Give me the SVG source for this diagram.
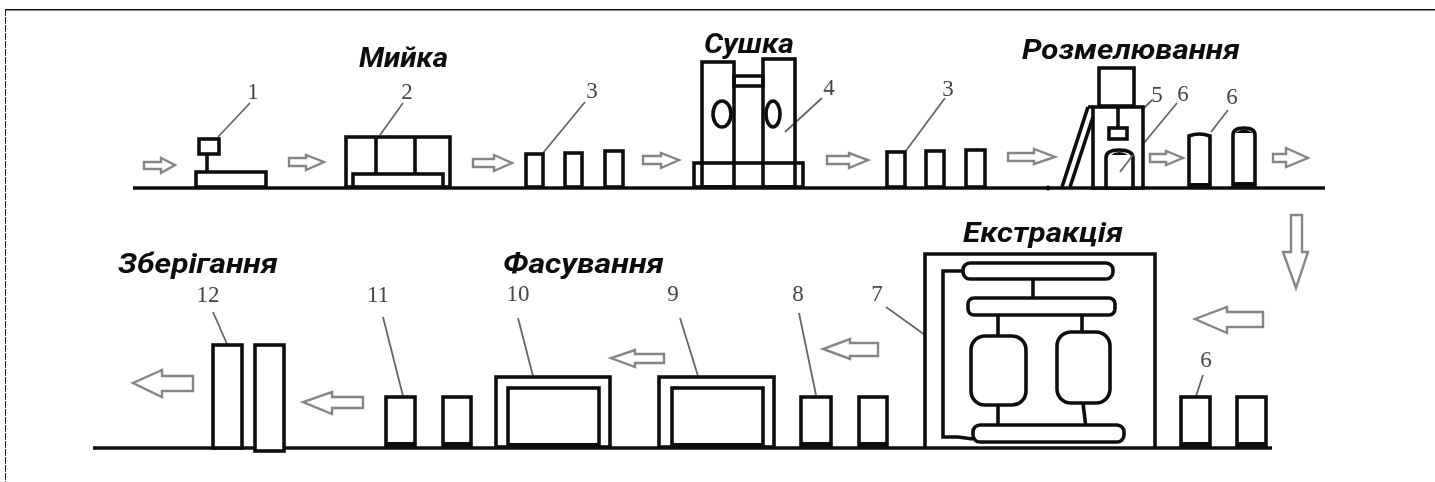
<svg xmlns="http://www.w3.org/2000/svg" width="1435" height="482" viewBox="0 0 1435 482">
<defs><filter id="soft" x="0" y="0" width="100%" height="100%"><feGaussianBlur stdDeviation="0.45"/></filter></defs>
<style>
.k{fill:#fff;stroke:#101010;stroke-width:3.6}
.n{fill:none;stroke:#101010;stroke-width:3.6}
.f{fill:#101010;stroke:none}
.a{fill:#fff;stroke:#858585;stroke-width:2.4;stroke-linejoin:miter}
.l{fill:none;stroke:#666;stroke-width:1.8}
.t{font-family:Roboto,"Noto Sans",sans-serif;font-weight:700;font-style:italic;font-size:27px;fill:#111}
.d{font-family:"Liberation Serif","Times New Roman",serif;font-size:23px;fill:#444;text-anchor:middle}
</style>
<rect width="1435" height="482" fill="#fff"/>
<g filter="url(#soft)">
<g id="frame">
<path d="M5 9H1435" fill="none" stroke="#101010" stroke-width="3"/>
<path d="M5 9V482" fill="none" stroke="#222" stroke-width="2" stroke-dasharray="7 1"/>
</g>
<g id="floors">
<path class="n" d="M133 188H1325"/>
<path class="n" d="M93 448H1272"/>
</g>
<g id="connectors">
<path class="a" d="M144 162H161V158L175 165L161 173V169H144Z"/>
<path class="a" d="M289 158H306V155L324 162L306 170V166H289Z"/>
<path class="a" d="M473 159H494V155L512 163L494 171V167H473Z"/>
<path class="a" d="M643 156H661V153L679 160L661 168V164H643Z"/>
<path class="a" d="M827 156H849V153L868 160L849 168V164H827Z"/>
<path class="a" d="M1008 153H1034V149L1055 157L1034 164V161H1008Z"/>
<path class="a" d="M1150 154H1166V151L1183 158L1166 165V162H1150Z"/>
<path class="a" d="M1273 154H1286V148L1308 158L1286 167V162H1273Z"/>
<path class="a" d="M1291 215H1302V252H1308L1296 288L1283 252H1291Z"/>
<path class="a" d="M1263 312H1227V307L1195 319L1227 333V327H1263Z"/>
<path class="a" d="M878 343H850V339L823 349L850 359V356H878Z"/>
<path class="a" d="M664 354H635V350L611 358L635 367V363H664Z"/>
<path class="a" d="M363 397H332V392L303 402L332 414V408H363Z"/>
<path class="a" d="M193 376H162V370L133 383L162 397V391H193Z"/>
<path class="l" d="M250 103L218 137"/>
<path class="l" d="M403 103L380 135"/>
<path class="l" d="M585 102L543 153"/>
<path class="l" d="M822 98L785 132"/>
<path class="l" d="M945 98L905 152"/>
<path class="l" d="M1152 100L1127 125"/>
<path class="l" d="M1177 103L1120 172"/>
<path class="l" d="M1228 110L1211 132"/>
<path class="l" d="M1203 375L1194 402"/>
<path class="l" d="M886 307L925 335"/>
<path class="l" d="M799 313L816 395"/>
<path class="l" d="M680 318L698 376"/>
<path class="l" d="M518 318L533 376"/>
<path class="l" d="M383 317L403 396"/>
<path class="l" d="M213 312L227 344"/>
</g>
<g id="n1"><rect class="k" x="199" y="139" width="20" height="15"/><path class="n" d="M207 154V171"/><rect class="k" x="196" y="172" width="70" height="15"/></g>
<g id="n2"><rect class="k" x="346" y="137" width="104" height="50"/><path class="n" d="M376 137V174M415 137V174"/><rect class="k" x="353" y="174" width="90" height="13"/></g>
<g id="n3a"><rect class="k" x="526" y="154" width="17" height="33"/><rect class="k" x="565" y="153" width="17" height="34"/><rect class="k" x="605" y="151" width="18" height="36"/></g>
<g id="n4">
<rect class="k" x="694" y="163" width="109" height="24"/>
<rect class="k" x="734" y="76" width="29" height="10"/>
<rect class="n" x="702" y="62" width="32" height="125"/>
<rect class="n" x="763" y="59" width="32" height="128"/>
<ellipse class="n" cx="722" cy="114" rx="9" ry="13"/>
<ellipse class="n" cx="773" cy="114" rx="7" ry="13"/>
</g>
<g id="n3b"><rect class="k" x="887" y="152" width="18" height="35"/><rect class="k" x="926" y="151" width="18" height="36"/><rect class="k" x="966" y="150" width="19" height="37"/></g>
<g id="n5">
<rect class="k" x="1099" y="68" width="35" height="38"/>
<rect class="k" x="1093" y="107" width="50" height="81"/>
<path class="n" d="M1088 107L1062 187M1093 117L1070 187M1088 107H1093"/>
<circle class="f" cx="1048" cy="188" r="2.5"/>
<path class="n" d="M1118 107V127"/>
<rect class="k" x="1109" y="128" width="18" height="11"/>
<path class="k" d="M1106 188V158Q1106 150 1119 150Q1133 150 1133 158V188Z"/>
<path class="f" d="M1111 155Q1119 149 1128 155Z"/>
<path class="l" d="M1133 155L1120 172"/>
</g>
<g id="n6a">
<path class="k" d="M1189 187V136Q1199 132 1210 136V187Z"/>
<path class="k" d="M1233 187V135Q1233 128 1244 128Q1255 128 1255 135V187Z"/>
<rect class="f" x="1189" y="183" width="21" height="4"/>
<rect class="f" x="1233" y="182" width="22" height="5"/>
<path class="f" d="M1235 133Q1244 126 1253 133Z"/>
</g>
<g id="n7">
<path class="n" d="M925 448V254H1155V448"/>
<path class="n" d="M963 271H943V437H958L973 439"/>
<path class="n" d="M1033 279V298M998 315V336M1082 315V332M998 405V425M1083 403L1086 428"/>
<rect class="k" x="963" y="263" width="150" height="16" rx="7"/>
<rect class="k" x="968" y="298" width="147" height="17" rx="6"/>
<rect class="k" x="971" y="336" width="55" height="69" rx="14"/>
<rect class="k" x="1057" y="332" width="53" height="71" rx="14"/>
<rect class="k" x="973" y="425" width="151" height="17" rx="7"/>
</g>
<g id="n6b"><rect class="k" x="1181" y="397" width="29" height="50"/><rect class="k" x="1237" y="397" width="29" height="50"/><rect class="f" x="1181" y="442" width="29" height="6"/><rect class="f" x="1237" y="442" width="29" height="6"/></g>
<g id="n8"><rect class="k" x="801" y="397" width="30" height="50"/><rect class="k" x="859" y="397" width="28" height="50"/><rect class="f" x="801" y="442" width="30" height="6"/><rect class="f" x="859" y="442" width="28" height="6"/></g>
<g id="n9"><rect class="k" x="659" y="377" width="115" height="70"/><rect class="k" x="672" y="388" width="91" height="59"/><rect class="f" x="672" y="443" width="91" height="5"/></g>
<g id="n10"><rect class="k" x="496" y="377" width="114" height="70"/><rect class="k" x="508" y="388" width="91" height="59"/><rect class="f" x="508" y="443" width="91" height="5"/></g>
<g id="n11"><rect class="k" x="386" y="397" width="29" height="50"/><rect class="k" x="443" y="397" width="28" height="50"/><rect class="f" x="386" y="442" width="29" height="6"/><rect class="f" x="443" y="442" width="28" height="6"/></g>
<g id="n12"><rect class="k" x="213" y="345" width="29" height="103"/><rect class="k" x="255" y="345" width="29" height="106"/></g>
<g id="titles">
<text class="t" x="359" y="67" textLength="89" lengthAdjust="spacingAndGlyphs">Мийка</text>
<text class="t" x="704" y="53" textLength="90" lengthAdjust="spacingAndGlyphs">Сушка</text>
<text class="t" x="1022" y="59" textLength="218" lengthAdjust="spacingAndGlyphs">Розмелювання</text>
<text class="t" x="963" y="242" textLength="160" lengthAdjust="spacingAndGlyphs">Екстракція</text>
<text class="t" x="503" y="273" textLength="161" lengthAdjust="spacingAndGlyphs">Фасування</text>
<text class="t" x="118" y="273" textLength="160" lengthAdjust="spacingAndGlyphs">Зберігання</text>
</g>
<g id="numbers">
<text class="d" x="253" y="99">1</text>
<text class="d" x="407" y="99">2</text>
<text class="d" x="592" y="98">3</text>
<text class="d" x="829" y="95">4</text>
<text class="d" x="948" y="96">3</text>
<text class="d" x="1157" y="102">5</text>
<text class="d" x="1183" y="101">6</text>
<text class="d" x="1232" y="104">6</text>
<text class="d" x="1206" y="367">6</text>
<text class="d" x="877" y="301">7</text>
<text class="d" x="798" y="301">8</text>
<text class="d" x="673" y="301">9</text>
<text class="d" x="518" y="301">10</text>
<text class="d" x="378" y="302">11</text>
<text class="d" x="208" y="302">12</text>
</g>
</g>
</svg>
